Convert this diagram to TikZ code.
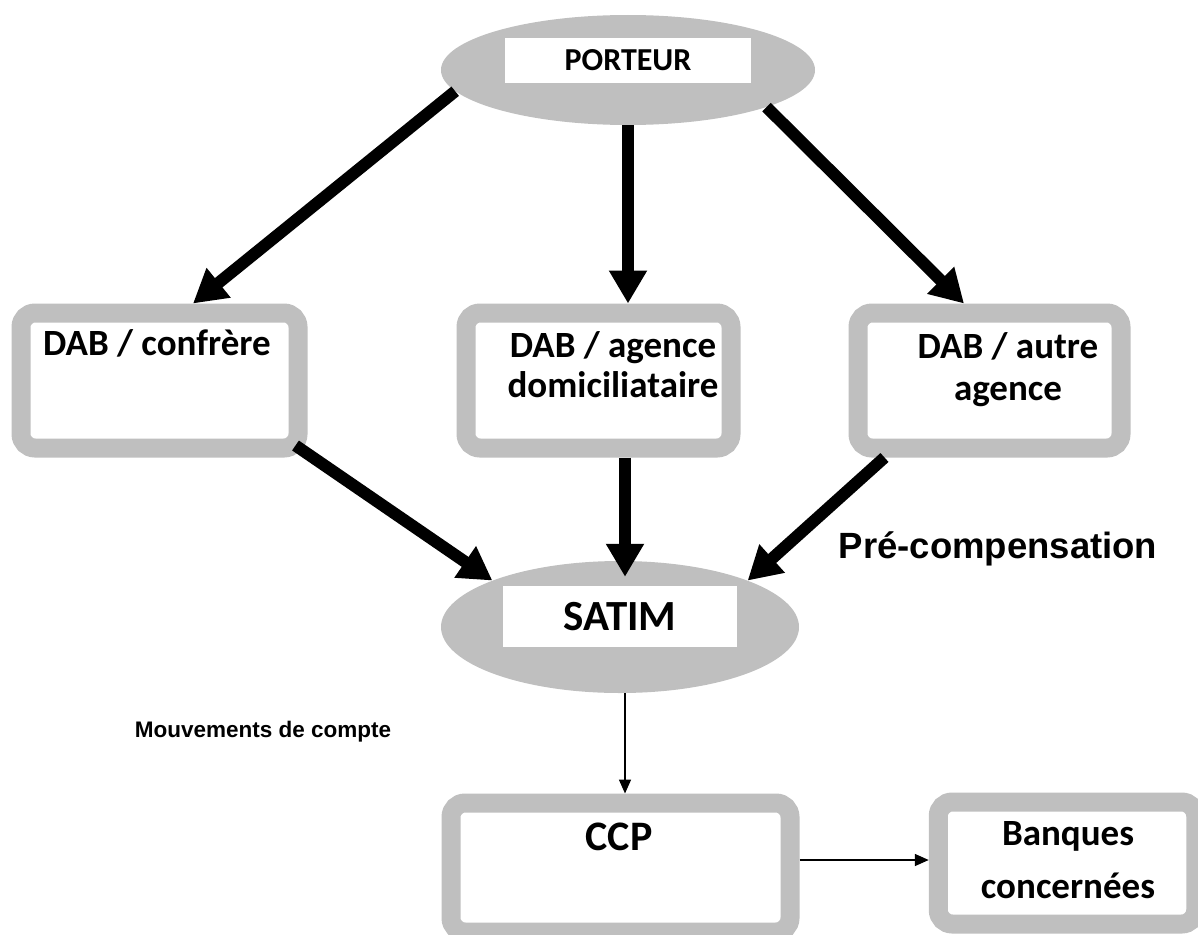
\documentclass[tikz,border=0pt]{standalone}
\usepackage{fontspec}
\setmainfont{Carlito}
\newfontfamily\arialfont{Liberation Sans}
\usepackage{tikz}
\usetikzlibrary{shapes,arrows.meta}

\definecolor{shapegray}{RGB}{191,191,191}

\begin{document}
\begin{tikzpicture}[
    x=1pt, y=-1pt,
    oval/.style={ellipse, fill=shapegray, inner sep=0pt},
    namebox/.style={rectangle, fill=white, inner sep=0pt, font=\bfseries},
    block/.style={rectangle, draw=shapegray, line width=19pt, rounded corners=14pt, fill=white, inner sep=0pt},
    boxtext/.style={font=\bfseries\fontsize{37}{40}\selectfont, align=center, anchor=base},
    note/.style={font=\arialfont\bfseries, anchor=base},
    arrow/.style={-{Triangle[length=33pt,width=36pt]}, line width=12pt},
    flow/.style={-{Triangle[length=14pt,width=12pt]}, line width=1.6pt}
]
    \clip (0,0) rectangle (1198,934);

    % ellipses
    \node[oval, minimum width=374, minimum height=110] (porteur) at (628,70) {};
    \node[namebox, minimum width=246, minimum height=45, font=\bfseries\fontsize{32}{36}\selectfont] (porteurtag) at (628,60.5) {PORTEUR};
    \node[oval, minimum width=358, minimum height=132] (satim) at (620,627) {};
    \node[namebox, minimum width=234, minimum height=61, font=\bfseries\fontsize{43}{48}\selectfont] (satimtag) at (620,616.5) {SATIM};

    % boxes
    \node[block, minimum width=277, minimum height=135] (dab1) at (159.5,380.5) {};
    \node[block, minimum width=265, minimum height=135] (dab2) at (598.5,380.5) {};
    \node[block, minimum width=263, minimum height=135] (dab3) at (989.5,380.5) {};
    \node[block, minimum width=339, minimum height=129] (ccp) at (620.5,867.5) {};
    \node[block, minimum width=257.5, minimum height=122] (banques) at (1067,863) {};

    % text sits on the baseline of the last line
    \node[boxtext] (dab1text) at (157,355) {DAB / confrère};
    \node[boxtext] (dab2text) at (613,397) {DAB / agence\\domiciliataire};
    \node[boxtext, font=\bfseries\fontsize{37}{42}\selectfont] (dab3text) at (1008,400) {DAB / autre\\agence};
    \node[boxtext, font=\bfseries\fontsize{42}{46}\selectfont] (ccptext) at (619,850) {CCP};
    \node[boxtext] (banquestext) at (1068,898) {Banques\\[13pt]concernées};

    % labels
    \node[note, font=\arialfont\bfseries\fontsize{36.5}{40}\selectfont] (precomp) at (998,558) {Pré-compensation};
    \node[note, font=\arialfont\bfseries\fontsize{22.5}{26}\selectfont] (mouvements) at (263,737) {Mouvements de compte};

    % arrows
    \draw[arrow] (porteur.187) -- ([xshift=33.5pt]dab1.north);
    \draw[arrow] (porteur.south) -- (porteur.south |- dab2.north);
    \draw[arrow] (porteur.345) -- ([xshift=-25.5pt]dab3.north);
    \draw[arrow] ([xshift=-12pt,yshift=12pt]dab1.south east) -- (satim.160);
    \draw[arrow] ([xshift=26.5pt]dab2.south) -- ([xshift=5pt,yshift=-16pt]satim.north);
    \draw[arrow] ([xshift=36pt]dab3.south west) -- (satim.20);
    \draw[flow] ([xshift=5pt]satim.south) -- ([xshift=5pt]satim.south |- ccp.north);
    \draw[flow] ([yshift=7.5pt]ccp.east) -- ([yshift=7.5pt]ccp.east -| banques.west);
\end{tikzpicture}
\end{document}
